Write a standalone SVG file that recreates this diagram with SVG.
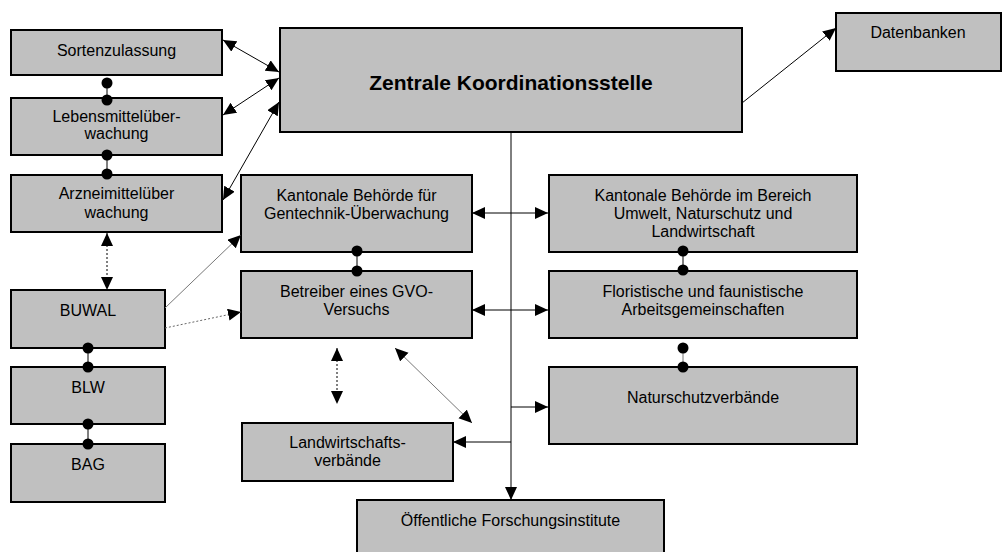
<svg xmlns="http://www.w3.org/2000/svg" width="1002" height="552" viewBox="0 0 1002 552">
<style>
.box{fill:#C0C0C0;stroke:#000;stroke-width:2}
.t{font-family:"Liberation Sans",Arial,sans-serif;font-size:16px;fill:#000;text-anchor:middle}
.tb{font-family:"Liberation Sans",Arial,sans-serif;font-size:21px;font-weight:bold;fill:#000;text-anchor:middle}
.c{stroke:#000;stroke-width:1;fill:none}
.g{stroke:#777;stroke-width:1;fill:none}
.d{stroke:#000;stroke-width:1;fill:none;stroke-dasharray:2,2}
.dg{stroke:#666;stroke-width:1;fill:none;stroke-dasharray:2,2}
.dot{fill:#000}
</style>
<defs>
<marker id="a" markerUnits="userSpaceOnUse" markerWidth="14" markerHeight="13" refX="13" refY="6" orient="auto-start-reverse">
<path d="M0,0 L13,6 L0,12 z" fill="#000"/>
</marker>
</defs>
<rect width="1002" height="552" fill="#fff"/>
<g id="sortenzulassung"><rect class="box" x="11" y="30" width="211" height="45"/><text class="t" x="116.5" y="56">Sortenzulassung</text></g>
<g id="lebensmittel"><rect class="box" x="11" y="98" width="211" height="57"/><text class="t" x="116.5" y="122">Lebensmittelüber-</text><text class="t" x="116.5" y="139">wachung</text></g>
<g id="arzneimittel"><rect class="box" x="11" y="175" width="211" height="57"/><text class="t" x="116.5" y="199">Arzneimittelüber</text><text class="t" x="116.5" y="218">wachung</text></g>
<g id="buwal"><rect class="box" x="11" y="290" width="154" height="58"/><text class="t" x="88" y="316">BUWAL</text></g>
<g id="blw"><rect class="box" x="11" y="367" width="154" height="57"/><text class="t" x="88" y="393">BLW</text></g>
<g id="bag"><rect class="box" x="11" y="444" width="154" height="58"/><text class="t" x="88" y="470">BAG</text></g>
<g id="zentrale"><rect class="box" x="280" y="28" width="462" height="104"/><text class="tb" x="511" y="90">Zentrale Koordinationsstelle</text></g>
<g id="datenbanken"><rect class="box" x="836" y="13" width="165" height="58"/><text class="t" x="918" y="38">Datenbanken</text></g>
<g id="gentechnik"><rect class="box" x="241" y="175" width="231" height="77"/><text class="t" x="356.5" y="201">Kantonale Behörde für</text><text class="t" x="356.5" y="219">Gentechnik-Überwachung</text></g>
<g id="betreiber"><rect class="box" x="241" y="271" width="231" height="67"/><text class="t" x="356.5" y="297">Betreiber eines GVO-</text><text class="t" x="356.5" y="315">Versuchs</text></g>
<g id="kantumwelt"><rect class="box" x="549" y="175" width="308" height="77"/><text class="t" x="703" y="201">Kantonale Behörde im Bereich</text><text class="t" x="703" y="219">Umwelt, Naturschutz und</text><text class="t" x="703" y="237">Landwirtschaft</text></g>
<g id="floristische"><rect class="box" x="549" y="271" width="308" height="67"/><text class="t" x="703" y="297">Floristische und faunistische</text><text class="t" x="703" y="315">Arbeitsgemeinschaften</text></g>
<g id="naturschutz"><rect class="box" x="549" y="367" width="308" height="77"/><text class="t" x="703" y="403">Naturschutzverbände</text></g>
<g id="landwirtschaft"><rect class="box" x="242" y="423" width="211" height="58"/><text class="t" x="347.5" y="448">Landwirtschafts-</text><text class="t" x="347.5" y="466">verbände</text></g>
<g id="forschung"><rect class="box" x="357" y="500" width="307" height="60"/><text class="t" x="510.5" y="526">Öffentliche Forschungsinstitute</text></g>
<g id="connectors">
<line class="c" x1="223" y1="40" x2="279" y2="72" marker-start="url(#a)" marker-end="url(#a)"/>
<line class="c" x1="223" y1="115" x2="279" y2="78" marker-start="url(#a)" marker-end="url(#a)"/>
<line class="c" x1="223" y1="200" x2="279" y2="102" marker-start="url(#a)" marker-end="url(#a)"/>
<line class="c" x1="742" y1="103" x2="836" y2="28" marker-end="url(#a)"/>
<line class="d" x1="107" y1="233" x2="107" y2="290" marker-start="url(#a)" marker-end="url(#a)"/>
<line class="g" x1="165" y1="308" x2="241" y2="235" marker-end="url(#a)"/>
<line class="dg" x1="165" y1="328" x2="241" y2="312" marker-end="url(#a)"/>
<line class="c" x1="472" y1="213" x2="548" y2="213" marker-start="url(#a)" marker-end="url(#a)"/>
<line class="c" x1="472" y1="310" x2="548" y2="310" marker-start="url(#a)" marker-end="url(#a)"/>
<line class="c" x1="511" y1="132" x2="511" y2="500" marker-end="url(#a)"/>
<line class="c" x1="511" y1="407" x2="548" y2="407" marker-end="url(#a)"/>
<line class="c" x1="511" y1="442" x2="453" y2="442" marker-end="url(#a)"/>
<line class="d" x1="337" y1="348" x2="337" y2="404" marker-start="url(#a)" marker-end="url(#a)"/>
<line class="g" x1="395" y1="348" x2="472" y2="423" marker-start="url(#a)" marker-end="url(#a)"/>
<line class="c" x1="107" y1="83" x2="107" y2="100"/><circle class="dot" cx="107" cy="83" r="5.5"/><circle class="dot" cx="107" cy="100" r="5.5"/>
<line class="c" x1="107" y1="155" x2="107" y2="174"/><circle class="dot" cx="107" cy="155" r="5.5"/><circle class="dot" cx="107" cy="174" r="5.5"/>
<line class="c" x1="357" y1="251" x2="357" y2="271"/><circle class="dot" cx="357" cy="251" r="5.5"/><circle class="dot" cx="357" cy="271" r="5.5"/>
<line class="c" x1="683" y1="251" x2="683" y2="270"/><circle class="dot" cx="683" cy="251" r="5.5"/><circle class="dot" cx="683" cy="270" r="5.5"/>
<line class="g" x1="683" y1="348" x2="683" y2="367"/><circle class="dot" cx="683" cy="348" r="5.5"/><circle class="dot" cx="683" cy="367" r="5.5"/>
<line class="c" x1="88" y1="348" x2="88" y2="367"/><circle class="dot" cx="88" cy="348" r="5.5"/><circle class="dot" cx="88" cy="367" r="5.5"/>
<line class="c" x1="88" y1="424" x2="88" y2="444"/><circle class="dot" cx="88" cy="424" r="5.5"/><circle class="dot" cx="88" cy="444" r="5.5"/>
</g>
</svg>
